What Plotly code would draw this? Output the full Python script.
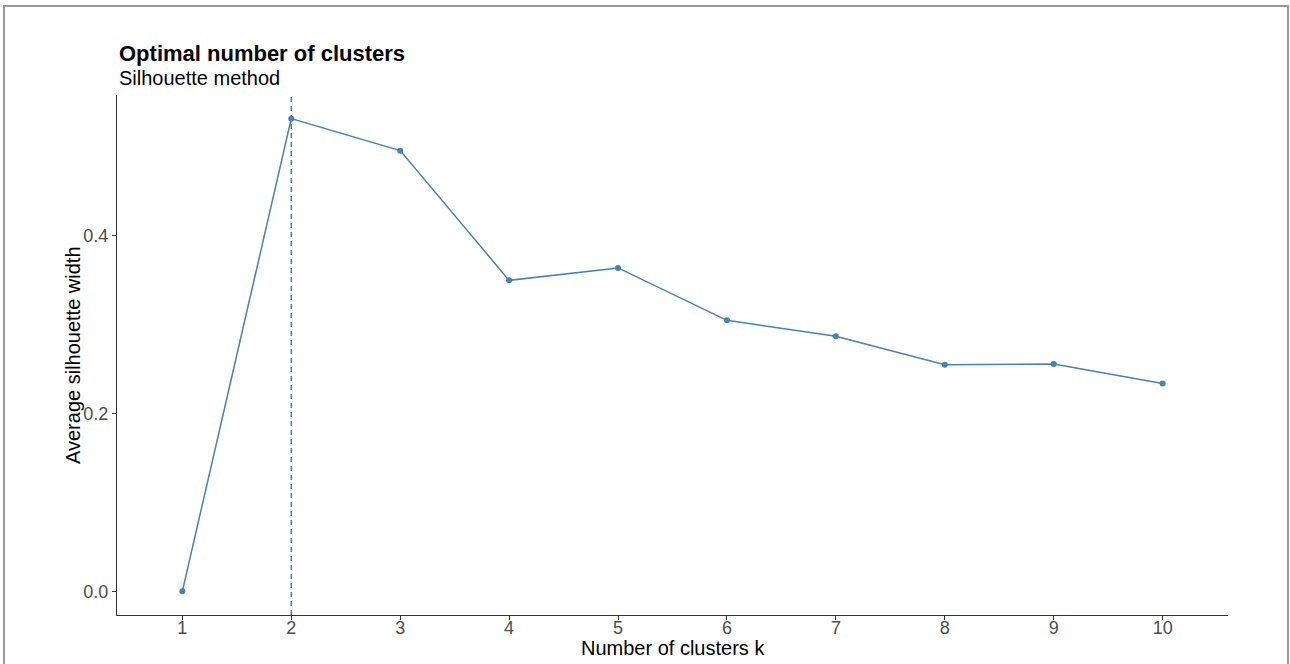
import plotly.graph_objects as go

k_values = [1, 2, 3, 4, 5, 6, 7, 8, 9, 10]
silhouette = [0.0, 0.532, 0.496, 0.350, 0.364, 0.305, 0.287, 0.255, 0.256, 0.234]
x_ticks = [1, 2, 3, 4, 5, 6, 7, 8, 9, 10]
y_ticks = [0.0, 0.2, 0.4]
y_tick_labels = ["0.0", "0.2", "0.4"]
optimal_k = 2

color = "#4682B4"
font = "Liberation Sans, Arial, sans-serif"

fig = go.Figure()
fig.add_trace(go.Scatter(
    x=k_values, y=silhouette, mode="lines+markers",
    line=dict(color=color, width=1.5),
    marker=dict(color=color, size=6),
    showlegend=False,
))
fig.add_shape(type="line", xref="x", yref="paper", x0=optimal_k, x1=optimal_k, y0=0, y1=1,
              line=dict(color=color, width=1.5, dash="5px,4px"))
# outer border
fig.add_shape(type="rect", xref="paper", yref="paper", x0=-0.1017, x1=1.054, y0=-0.106, y1=1.171,
              line=dict(color="#9a9a9a", width=2), layer="below")

fig.add_annotation(text="<b>Optimal number of clusters</b>", xref="paper", yref="paper",
                   x=0, y=1.079, xanchor="left", yanchor="middle", showarrow=False,
                   font=dict(family=font, size=22, color="black"))
fig.add_annotation(text="Silhouette method", xref="paper", yref="paper",
                   x=0, y=1.033, xanchor="left", yanchor="middle", showarrow=False,
                   font=dict(family=font, size=20, color="black"))
fig.add_annotation(text="Number of clusters k", xref="paper", yref="paper",
                   x=0.5, y=-0.063, xanchor="center", yanchor="middle", showarrow=False,
                   font=dict(family=font, size=20, color="black"))
fig.add_annotation(text="Average silhouette width", xref="paper", yref="paper",
                   x=-0.0396, y=0.5, xanchor="center", yanchor="middle", showarrow=False,
                   textangle=-90, font=dict(family=font, size=20, color="black"))

fig.update_layout(
    width=1290, height=664, autosize=False,
    margin=dict(l=117, r=62, t=95, b=49),
    paper_bgcolor="white", plot_bgcolor="white",
    font=dict(family=font),
    xaxis=dict(range=[0.4, 10.6], tickvals=x_ticks, ticktext=[str(v) for v in x_ticks],
               automargin=False, ticklabelstandoff=-8,
               showgrid=False, zeroline=False, showline=True, linecolor="#333333", linewidth=1.3,
               ticks="outside", ticklen=4, tickcolor="#333333",
               tickfont=dict(size=18, color="#4D4D4D")),
    yaxis=dict(range=[-0.0266, 0.5586], tickvals=y_ticks, ticktext=y_tick_labels,
               automargin=False,
               showgrid=False, zeroline=False, showline=True, linecolor="#333333", linewidth=1.3,
               ticks="outside", ticklen=4, tickcolor="#333333",
               tickfont=dict(size=18, color="#4D4D4D")),
)

fig.write_html("out.html", config={"responsive": False, "displayModeBar": False},
               post_script="document.body.style.margin='0';")
